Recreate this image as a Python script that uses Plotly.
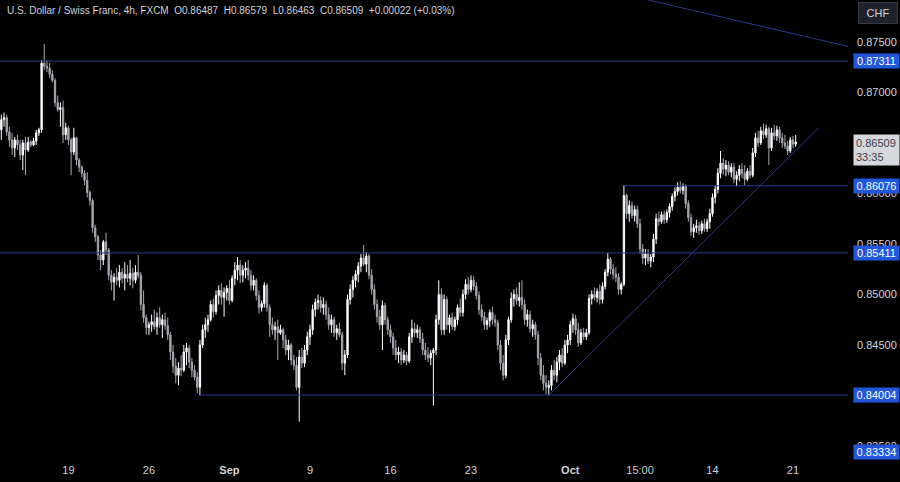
import plotly.graph_objects as go

# ---- OHLC data (USD/CHF 4h, FXCM), bar index 0..296 ----
opens = [
 .8663,.8673,.8675,.8661,.8653,.8645,.8653,.8648,.8638,.8650,
 .8643,.8651,.8648,.8652,.8660,.8663,.8729,.8726,.8724,.8718,
 .8712,.8690,.8683,.8685,.8658,.8665,.8653,.8641,.8655,.8633,
 .8626,.8620,.8613,.8601,.8593,.8566,.8557,.8539,.8534,.8552,
 .8544,.8519,.8512,.8517,.8514,.8522,.8516,.8520,.8516,.8521,
 .8514,.8522,.8519,.8490,.8477,.8467,.8470,.8473,.8468,.8477,
 .8470,.8475,.8469,.8460,.8443,.8429,.8420,.8427,.8425,.8443,
 .8447,.8433,.8425,.8418,.8408,.8450,.8465,.8470,.8475,.8490,
 .8483,.8499,.8504,.8497,.8502,.8506,.8494,.8516,.8524,.8529,
 .8519,.8524,.8526,.8519,.8509,.8514,.8499,.8487,.8491,.8509,
 .8487,.8470,.8465,.8468,.8462,.8465,.8455,.8445,.8450,.8435,
 .8430,.8408,.8438,.8432,.8445,.8458,.8465,.8485,.8492,.8494,
 .8487,.8490,.8480,.8470,.8475,.8462,.8466,.8460,.8432,.8440,
 .8495,.8505,.8514,.8520,.8528,.8536,.8530,.8538,.8519,.8505,
 .8490,.8478,.8470,.8489,.8475,.8465,.8458,.8447,.8440,.8443,
 .8435,.8440,.8434,.8458,.8466,.8462,.8465,.8456,.8445,.8440,
 .8437,.8442,.8445,.8475,.8500,.8465,.8495,.8470,.8477,.8468,
 .8475,.8487,.8482,.8500,.8510,.8505,.8514,.8508,.8499,.8485,
 .8478,.8470,.8474,.8482,.8475,.8472,.8450,.8432,.8420,.8455,
 .8475,.8496,.8500,.8494,.8497,.8490,.8475,.8480,.8466,.8470,
 .8460,.8437,.8420,.8412,.8408,.8410,.8425,.8420,.8433,.8440,
 .8432,.8450,.8455,.8470,.8476,.8465,.8452,.8462,.8458,.8462,
 .8496,.8500,.8497,.8503,.8495,.8508,.8522,.8535,.8525,.8520,
 .8517,.8505,.8510,.8598,.8580,.8588,.8578,.8584,.8570,.8545,
 .8536,.8540,.8533,.8537,.8555,.8575,.8572,.8579,.8574,.8581,
 .8587,.8597,.8602,.8606,.8603,.8607,.8590,.8576,.8562,.8566,
 .8568,.8563,.8570,.8565,.8572,.8580,.8596,.8604,.8620,.8630,
 .8624,.8628,.8621,.8626,.8614,.8618,.8624,.8620,.8614,.8622,
 .8618,.8640,.8655,.8650,.8662,.8658,.8664,.8645,.8660,.8657,
 .8663,.8655,.8650,.8647,.8642,.8653,.86487]

highs = [
 .8678,.8680,.8678,.8666,.8660,.8656,.8658,.8653,.8653,.8656,
 .8656,.8653,.8655,.8663,.8665,.8732,.8748,.8732,.8729,.8722,
 .8714,.8697,.8690,.8692,.8670,.8667,.8655,.8665,.8656,.8635,
 .8628,.8623,.8621,.8603,.8595,.8569,.8559,.8544,.8554,.8561,
 .8546,.8524,.8521,.8526,.8529,.8526,.8532,.8529,.8534,.8526,
 .8529,.8539,.8522,.8504,.8480,.8473,.8480,.8485,.8482,.8487,
 .8480,.8482,.8477,.8463,.8450,.8437,.8433,.8440,.8450,.8452,
 .8450,.8437,.8430,.8423,.8455,.8470,.8477,.8480,.8494,.8496,
 .8504,.8509,.8511,.8507,.8509,.8514,.8519,.8532,.8537,.8534,
 .8529,.8532,.8534,.8524,.8519,.8516,.8504,.8494,.8512,.8511,
 .8490,.8477,.8473,.8475,.8470,.8467,.8460,.8455,.8452,.8440,
 .8438,.8445,.8447,.8450,.8463,.8470,.8490,.8496,.8500,.8498,
 .8497,.8494,.8487,.8480,.8478,.8470,.8472,.8463,.8445,.8500,
 .8510,.8518,.8524,.8532,.8540,.8549,.8542,.8540,.8525,.8510,
 .8495,.8485,.8494,.8492,.8478,.8470,.8462,.8455,.8448,.8447,
 .8445,.8443,.8462,.8475,.8472,.8470,.8468,.8462,.8452,.8448,
 .8445,.8447,.8480,.8514,.8506,.8500,.8498,.8480,.8482,.8478,
 .8490,.8496,.8505,.8515,.8517,.8519,.8518,.8512,.8503,.8490,
 .8483,.8477,.8485,.8488,.8480,.8475,.8455,.8440,.8460,.8478,
 .8502,.8505,.8507,.8512,.8514,.8495,.8485,.8484,.8475,.8473,
 .8464,.8442,.8430,.8420,.8415,.8430,.8435,.8438,.8445,.8447,
 .8455,.8460,.8474,.8481,.8480,.8472,.8466,.8467,.8466,.8500,
 .8504,.8507,.8506,.8510,.8512,.8525,.8541,.8537,.8530,.8527,
 .8521,.8512,.8608,.8600,.8593,.8592,.8588,.8588,.8575,.8550,
 .8545,.8545,.8540,.8560,.8580,.8582,.8582,.8583,.8584,.8590,
 .8600,.8606,.8611,.8612,.8610,.8609,.8593,.8580,.8570,.8574,
 .8572,.8573,.8575,.8575,.8585,.8600,.8608,.8625,.8642,.8635,
 .8633,.8632,.8630,.8630,.8622,.8628,.8630,.8628,.8625,.8628,
 .8645,.8660,.8662,.8666,.8669,.8668,.8666,.8665,.8668,.8667,
 .8666,.8660,.8658,.8652,.8656,.8657,.86579]

lows = [
 .8653,.8666,.8657,.8646,.8638,.8636,.8643,.8633,.8623,.8618,
 .8641,.8646,.8647,.8648,.8657,.8660,.8722,.8720,.8714,.8710,
 .8686,.8681,.8666,.8650,.8653,.8648,.8618,.8638,.8628,.8621,
 .8616,.8608,.8596,.8588,.8561,.8552,.8534,.8524,.8529,.8539,
 .8514,.8504,.8494,.8509,.8507,.8511,.8504,.8512,.8509,.8506,
 .8511,.8516,.8484,.8472,.8460,.8460,.8463,.8465,.8460,.8467,
 .8457,.8465,.8455,.8435,.8422,.8412,.8410,.8419,.8423,.8430,
 .8427,.8418,.8415,.8402,.8400,.8447,.8457,.8463,.8473,.8477,
 .8480,.8490,.8490,.8478,.8494,.8490,.8492,.8509,.8514,.8511,
 .8512,.8516,.8514,.8504,.8504,.8494,.8481,.8483,.8487,.8483,
 .8458,.8460,.8455,.8435,.8460,.8447,.8440,.8435,.8430,.8425,
 .8405,.8374,.8427,.8428,.8440,.8450,.8460,.8478,.8485,.8482,
 .8480,.8475,.8465,.8462,.8458,.8455,.8458,.8425,.8420,.8437,
 .8490,.8497,.8507,.8512,.8522,.8528,.8522,.8515,.8500,.8485,
 .8472,.8465,.8445,.8470,.8460,.8452,.8440,.8435,.8432,.8430,
 .8432,.8430,.8432,.8452,.8458,.8457,.8452,.8440,.8435,.8433,
 .8430,.8390,.8440,.8470,.8460,.8460,.8465,.8462,.8465,.8464,
 .8470,.8478,.8478,.8495,.8500,.8502,.8504,.8495,.8480,.8474,
 .8465,.8465,.8468,.8470,.8468,.8445,.8425,.8415,.8417,.8450,
 .8472,.8488,.8490,.8488,.8485,.8470,.8468,.8462,.8458,.8455,
 .8430,.8415,.8405,.8401,.8400,.8405,.8415,.8413,.8425,.8428,
 .8430,.8442,.8450,.8462,.8460,.8448,.8450,.8455,.8455,.8460,
 .8490,.8494,.8492,.8490,.8491,.8505,.8518,.8520,.8515,.8512,
 .8500,.8500,.8508,.8575,.8572,.8575,.8572,.8566,.8540,.8530,
 .8529,.8530,.8527,.8532,.8550,.8568,.8570,.8570,.8571,.8576,
 .8583,.8592,.8598,.8600,.8599,.8585,.8572,.8558,.8556,.8561,
 .8559,.8560,.8562,.8562,.8565,.8577,.8590,.8600,.8615,.8618,
 .8617,.8618,.8616,.8610,.8607,.8612,.8615,.8608,.8612,.8615,
 .8616,.8636,.8646,.8648,.8654,.8655,.8628,.8642,.8653,.8652,
 .8650,.8645,.8644,.8638,.8640,.8645,.86463]

closes = [
 .8673,.8675,.8661,.8653,.8645,.8653,.8648,.8638,.8650,.8643,
 .8651,.8648,.8652,.8660,.8663,.8729,.8726,.8724,.8718,.8712,
 .8690,.8683,.8685,.8658,.8665,.8653,.8641,.8655,.8633,.8626,
 .8620,.8613,.8601,.8593,.8566,.8557,.8539,.8534,.8552,.8544,
 .8519,.8512,.8517,.8514,.8522,.8516,.8520,.8516,.8521,.8514,
 .8522,.8519,.8490,.8477,.8467,.8470,.8473,.8468,.8477,.8470,
 .8475,.8469,.8460,.8443,.8429,.8420,.8427,.8425,.8443,.8447,
 .8433,.8425,.8418,.8408,.8450,.8465,.8470,.8475,.8490,.8483,
 .8499,.8504,.8497,.8502,.8506,.8494,.8516,.8524,.8529,.8519,
 .8524,.8526,.8519,.8509,.8514,.8499,.8487,.8491,.8509,.8487,
 .8470,.8465,.8468,.8462,.8465,.8455,.8445,.8450,.8435,.8430,
 .8408,.8438,.8432,.8445,.8458,.8465,.8485,.8492,.8494,.8487,
 .8490,.8480,.8470,.8475,.8462,.8466,.8460,.8432,.8440,.8495,
 .8505,.8514,.8520,.8528,.8536,.8530,.8538,.8519,.8505,.8490,
 .8478,.8470,.8489,.8475,.8465,.8458,.8447,.8440,.8443,.8435,
 .8440,.8434,.8458,.8466,.8462,.8465,.8456,.8445,.8440,.8437,
 .8442,.8445,.8475,.8500,.8465,.8495,.8470,.8477,.8468,.8475,
 .8487,.8482,.8500,.8510,.8505,.8514,.8508,.8499,.8485,.8478,
 .8470,.8474,.8482,.8475,.8472,.8450,.8432,.8420,.8455,.8475,
 .8496,.8500,.8494,.8497,.8490,.8475,.8480,.8466,.8470,.8460,
 .8437,.8420,.8412,.8408,.8410,.8425,.8420,.8433,.8440,.8432,
 .8450,.8455,.8470,.8476,.8465,.8452,.8462,.8458,.8462,.8496,
 .8500,.8497,.8503,.8495,.8508,.8522,.8535,.8525,.8520,.8517,
 .8505,.8510,.8598,.8580,.8588,.8578,.8584,.8570,.8545,.8536,
 .8540,.8533,.8537,.8555,.8575,.8572,.8579,.8574,.8581,.8587,
 .8597,.8602,.8606,.8603,.8607,.8590,.8576,.8562,.8566,.8568,
 .8563,.8570,.8565,.8572,.8580,.8596,.8604,.8620,.8630,.8624,
 .8628,.8621,.8626,.8614,.8618,.8624,.8620,.8614,.8622,.8618,
 .8640,.8655,.8650,.8662,.8658,.8664,.8645,.8660,.8657,.8663,
 .8655,.8650,.8647,.8642,.8653,.8649,.86509]

# time-axis labels (bar index of the labelled bar)
tick_bars = [25, 55, 85, 115, 145, 175, 212, 238, 265, 295]
tick_labels = ["19", "26", "<b>Sep</b>", "9", "16", "23", "<b>Oct</b>", "15:00", "14", "21"]

# price-axis ticks
price_ticks = [0.835, 0.840, 0.845, 0.850, 0.855, 0.860, 0.865, 0.870, 0.875]

# horizontal levels and the bar where each drawing begins
levels = [0.87311, 0.86076, 0.85411, 0.84004]
level_start_bar = [-0.5, 232, -0.5, 74]
extra_label = 0.83334   # off-screen level, its label is pinned to the pane bottom

# trend lines: (bar, price) endpoints
trend_up = [(204, 0.84004), (304.5, 0.86648)]
trend_down = [(241.1, 0.87915), (316.4, 0.87450)]

last_price = 0.86509
countdown = "33:35"
SP = "&nbsp;&nbsp;"
title_text = ("U.S. Dollar / Swiss Franc, 4h, FXCM" + SP + "O0.86487" + SP + "H0.86579" + SP +
              "L0.86463" + SP + "C0.86509" + SP + "+0.00022 (+0.03%)")

X_RANGE = [-0.5, 315.5]
Y_RANGE = [0.83341, 0.87915]
LINE_COLOR = "#2d388f"
LABEL_BLUE = "#2157dc"
TXT = "#d1d4dc"
FONT = "Liberation Sans, Arial, sans-serif"

bars = list(range(len(closes)))

fig = go.Figure(go.Candlestick(
    x=bars, open=opens, high=highs, low=lows, close=closes,
    increasing=dict(line=dict(color="#ffffff", width=1), fillcolor="#ffffff"),
    decreasing=dict(line=dict(color="#a5a8b0", width=1), fillcolor="#a5a8b0"),
    whiskerwidth=0, hoverinfo="skip", showlegend=False,
))

shapes = []
for lvl, start in zip(levels, level_start_bar):
    shapes.append(dict(type="line", xref="x", yref="y", x0=start, x1=X_RANGE[1],
                       y0=lvl, y1=lvl, line=dict(color=LINE_COLOR, width=1)))
for (a, b) in (trend_up, trend_down):
    shapes.append(dict(type="line", xref="x", yref="y", x0=a[0], y0=a[1], x1=b[0], y1=b[1],
                       line=dict(color=LINE_COLOR, width=1)))

annotations = [
    dict(text=title_text, xref="paper", yref="paper", x=0, y=1, xanchor="left", yanchor="top",
         xshift=5, yshift=-3, showarrow=False, font=dict(family=FONT, size=10, color=TXT)),
    dict(text="CHF", xref="paper", yref="paper", x=1, y=1, xanchor="left", yanchor="top",
         xshift=10, yshift=-2, showarrow=False, bgcolor="#1e222d", bordercolor="#363a45",
         borderwidth=1, borderpad=4, width=30, font=dict(family=FONT, size=11, color=TXT)),
]
for lvl in levels:
    annotations.append(dict(
        text=f"{lvl:.5f}", xref="paper", yref="y", x=1, y=lvl, xanchor="left", yanchor="middle",
        xshift=5, showarrow=False, bgcolor=LABEL_BLUE, borderpad=1, width=43, align="center",
        font=dict(family=FONT, size=11, color="#ffffff")))
annotations.append(dict(
    text=f"{extra_label:.5f}", xref="paper", yref="paper", x=1, y=0, xanchor="left",
    yanchor="middle", xshift=5, yshift=10, showarrow=False, bgcolor=LABEL_BLUE, borderpad=1,
    width=43, align="center", font=dict(family=FONT, size=11, color="#ffffff")))
annotations.append(dict(
    text=f"{last_price:.5f}<br>{countdown}", xref="paper", yref="y", x=1, y=last_price,
    xanchor="left", yanchor="top", xshift=5, yshift=8, showarrow=False, bgcolor="#d6d8de",
    borderpad=2, width=41, align="left",
    font=dict(family=FONT, size=11, color="#3b3e48")))

fig.update_layout(
    width=900, height=482,
    margin=dict(l=0, r=52, t=0, b=20),
    paper_bgcolor="#000000", plot_bgcolor="#000000",
    font=dict(family=FONT, size=11, color=TXT),
    shapes=shapes, annotations=annotations,
    xaxis=dict(range=X_RANGE, tickvals=tick_bars, ticktext=tick_labels, showgrid=False,
               zeroline=False, showline=False, ticks="", rangeslider=dict(visible=False),
               tickfont=dict(family=FONT, size=11, color=TXT), fixedrange=True),
    yaxis=dict(range=Y_RANGE, side="right", tickvals=price_ticks,
               ticktext=[f"{p:.5f}" for p in price_ticks], showgrid=False, zeroline=False,
               showline=False, ticks="", ticklabelstandoff=8,
               tickfont=dict(family=FONT, size=11, color=TXT), fixedrange=True),
    hovermode=False,
)

fig.write_html(
    "out.html",
    config={"displayModeBar": False},
    post_script="document.body.style.margin='0';document.body.style.background='#000';",
)
